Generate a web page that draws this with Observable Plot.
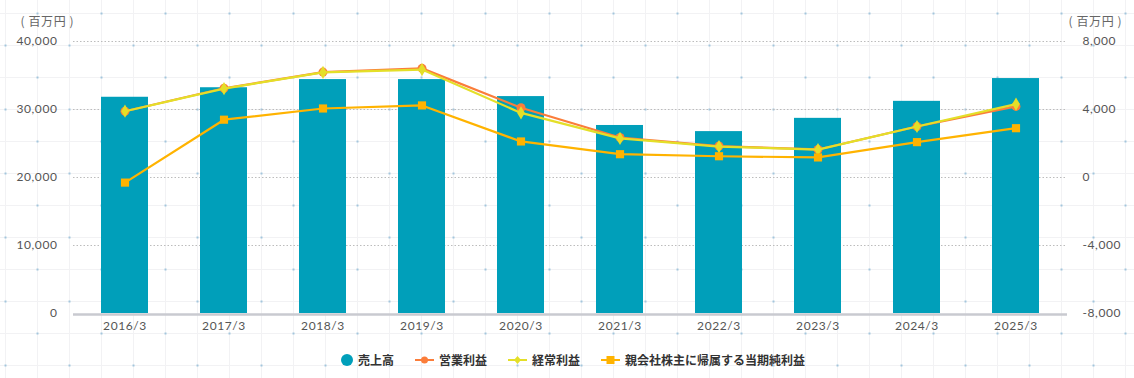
<!DOCTYPE html>
<html lang="ja">
<head>
<meta charset="utf-8">
<script src="https://cdn.jsdelivr.net/npm/d3@7"></script>
<script src="https://cdn.jsdelivr.net/npm/@observablehq/plot@0.6"></script>
<style>
  html, body { margin: 0; padding: 0; }
  body {
    width: 1134px; height: 378px; overflow: hidden; position: relative;
    background-color: #fff;
    background-image:
      radial-gradient(circle at center, #8dbad6 0.6px, transparent 1.1px),
      radial-gradient(circle at center, #8dbad6 0.6px, transparent 1.1px),
      linear-gradient(#f2f2f4 1px, transparent 1px),
      linear-gradient(90deg, #f2f2f4 1px, transparent 1px);
    background-size: 64px 64px, 64px 64px, 32px 32px, 32px 32px;
    background-position: 5.5px -18.5px, -26.5px 13.5px, 0 13px, 5px 0;
    font-family: Lato, "Noto Sans CJK JP", sans-serif;
  }
  #chart svg { display: block; }
  #legend {
    position: absolute; left: 341px; top: 351px; display: flex; align-items: center;
    font-family: "Noto Sans CJK JP", sans-serif; font-size: 12px; font-weight: bold; color: #333;
  }
  .item { display: flex; align-items: center; margin-right: 21px; }
  .item svg { margin-right: 5px; display: block; }
</style>
</head>
<body>
<div id="chart"></div>
<div id="legend"></div>
<script>
const years = ["2016/3","2017/3","2018/3","2019/3","2020/3","2021/3","2022/3","2023/3","2024/3","2025/3"];
const sales = [31800, 33200, 34400, 34400, 31900, 27650, 26750, 28700, 31200, 34550];
const operatingProfit = [3900, 5250, 6200, 6420, 4100, 2350, 1850, 1650, 3000, 4180];
const ordinaryProfit = [3900, 5230, 6180, 6350, 3800, 2300, 1820, 1640, 3000, 4320];
const netProfit = [-300, 3400, 4060, 4240, 2120, 1370, 1250, 1180, 2080, 2900];
const leftTicks = [0, 10000, 20000, 30000, 40000];
const rightTicks = [-8000, -4000, 0, 4000, 8000];
const seriesNames = ["売上高", "営業利益", "経常利益", "親会社株主に帰属する当期純利益"];
const unitLabel = "( 百万円 )";

const colors = {bar: "#009fba", op: "#fb7d3a", ord: "#e4df28", net: "#ffb300"};

// right axis [-8000, 8000] mapped onto left axis [0, 40000]
const toLeft = v => (v + 8000) * 2.5;
const fromLeft = v => v / 2.5 - 8000;
const fmt = d => d3.format(",")(d).replace("−", "-");

const rows = years.map((y, i) => ({
  year: y, sales: sales[i], op: operatingProfit[i], ord: ordinaryProfit[i], net: netProfit[i]
}));

const chart = Plot.plot({
  width: 1134,
  height: 338,
  marginLeft: 73,
  marginRight: 67,
  marginTop: 41,
  marginBottom: 25,
  style: {background: "transparent", fontSize: "12px", fontFamily: "Lato, sans-serif", color: "#555", letterSpacing: "0.6px"},
  x: {domain: years, paddingInner: 0.53, paddingOuter: 0.27, label: null},
  y: {domain: [0, 40000], label: null},
  marks: [
    Plot.ruleY(leftTicks.filter(d => d !== 0), {stroke: "#bcbcbc", strokeDasharray: "1.5,2"}),
    Plot.ruleY([0], {stroke: "#c9cad0", strokeWidth: 2.5, dy: 1}),
    Plot.barY(rows, {x: "year", y: "sales", fill: colors.bar}),
    Plot.line(rows, {x: "year", y: d => toLeft(d.op), stroke: colors.op, strokeWidth: 2.2}),
    Plot.dot(rows, {x: "year", y: d => toLeft(d.op), fill: colors.op, r: 4.5, symbol: "circle"}),
    Plot.line(rows, {x: "year", y: d => toLeft(d.ord), stroke: colors.ord, strokeWidth: 2.2}),
    Plot.dot(rows, {x: "year", y: d => toLeft(d.ord), fill: colors.ord, r: 4, symbol: "diamond"}),
    Plot.line(rows, {x: "year", y: d => toLeft(d.net), stroke: colors.net, strokeWidth: 2.2}),
    Plot.dot(rows, {x: "year", y: d => toLeft(d.net), fill: colors.net, r: 4.6, symbol: "square"}),
    Plot.axisX({tickSize: 0, tickPadding: 8, label: null, fill: "#555"}),
    Plot.axisY({anchor: "left", ticks: leftTicks, tickFormat: fmt, tickSize: 0, tickPadding: 16, label: null, fill: "#555"}),
    Plot.axisY({anchor: "right", ticks: rightTicks.map(toLeft), tickFormat: d => fmt(Math.round(fromLeft(d))), tickSize: 0, tickPadding: 15, textAnchor: "start", label: null, fill: "#555"}),
    Plot.text([unitLabel], {frameAnchor: "top-left", dx: -53, dy: -24, textAnchor: "start", fill: "#666", fontFamily: "'Noto Sans CJK JP', sans-serif"}),
    Plot.text([unitLabel], {frameAnchor: "top-right", dx: 1, dy: -24, textAnchor: "start", fill: "#666", fontFamily: "'Noto Sans CJK JP', sans-serif"})
  ]
});
document.getElementById("chart").appendChild(chart);

// legend
const legend = d3.select("#legend");
const swatches = [
  s => s.append("circle").attr("cx", 6).attr("cy", 6).attr("r", 6).attr("fill", colors.bar),
  s => { s.append("line").attr("x1", 0).attr("x2", 19).attr("y1", 6).attr("y2", 6).attr("stroke", colors.op).attr("stroke-width", 2);
         s.append("circle").attr("cx", 9.5).attr("cy", 6).attr("r", 3.5).attr("fill", colors.op); },
  s => { s.append("line").attr("x1", 0).attr("x2", 19).attr("y1", 6).attr("y2", 6).attr("stroke", colors.ord).attr("stroke-width", 2);
         s.append("path").attr("d", "M9.5,2L13,6L9.5,10L6,6Z").attr("fill", colors.ord); },
  s => { s.append("line").attr("x1", 0).attr("x2", 19).attr("y1", 6).attr("y2", 6).attr("stroke", colors.net).attr("stroke-width", 2);
         s.append("rect").attr("x", 5.5).attr("y", 2).attr("width", 8).attr("height", 8).attr("fill", colors.net); }
];
seriesNames.forEach((name, i) => {
  const item = legend.append("div").attr("class", "item");
  const s = item.append("svg").attr("width", i === 0 ? 12 : 19).attr("height", 12);
  swatches[i](s);
  item.append("span").text(name);
});
</script>
</body>
</html>
